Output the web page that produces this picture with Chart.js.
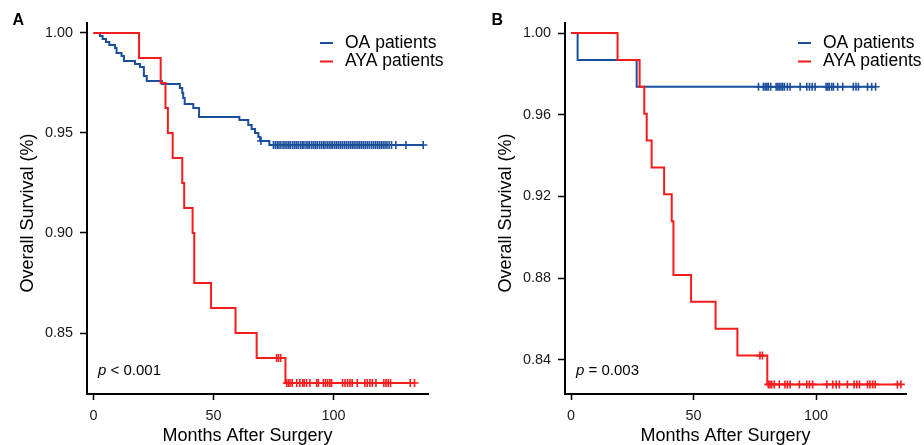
<!DOCTYPE html>
<html>
<head>
<meta charset="utf-8">
<script src="https://cdn.jsdelivr.net/npm/chart.js@4.4.1/dist/chart.umd.min.js"></script>
<style>
  html, body { margin: 0; padding: 0; background: #fff; }
  #wrap { position: relative; width: 924px; height: 445px; }
  canvas { position: absolute; top: 0; }
</style>
</head>
<body>
<div id="wrap">
  <canvas id="panelA" width="462" height="445" style="left:0"></canvas>
  <canvas id="panelB" width="462" height="445" style="left:462px"></canvas>
</div>
<script>
// ---------------- DATA ----------------
const seriesLabels = ['OA patients', 'AYA patients'];
const seriesColors = ['#1b4f9c', '#f41c1c'];

const xTicks = [0, 50, 100];
const yTicksA = [0.85, 0.90, 0.95, 1.00];
const yTicksB = [0.84, 0.88, 0.92, 0.96, 1.00];

// Panel A – OA patients (event times, survival after event)
const aOaTimes = [0, 2.7, 3.8, 5.2, 6.6, 9.0, 9.6, 11.7, 12.7, 17.3, 19.4, 21.0, 22.2, 28.5, 36.0, 37.0, 37.4, 38.0, 41.6, 44.0, 60.8, 64.5, 65.9, 67.3, 68.7, 69.5, 73.3];
const aOaSurv  = [1.0, 0.9985, 0.997, 0.9955, 0.994, 0.9925, 0.990, 0.9885, 0.986, 0.9845, 0.983, 0.9785, 0.976, 0.9745, 0.9725, 0.970, 0.9675, 0.9645, 0.9625, 0.958, 0.9565, 0.954, 0.952, 0.950, 0.948, 0.946, 0.944];
const aOaCensor = [69.8, 75.0, 75.8, 76.6, 77.3, 78.1, 79.0, 79.8, 80.6, 81.4, 82.1, 83.0, 83.8, 84.5, 85.3, 86.2, 87.0, 87.7, 88.6, 89.4, 90.1, 91.0, 91.8, 92.6, 93.3, 94.2, 95.0, 95.8, 96.5, 97.4, 98.2, 99.0, 99.7, 100.6, 101.4, 102.2, 103.0, 103.8, 104.6, 105.4, 106.2, 107.0, 107.8, 108.6, 109.4, 110.2, 111.0, 111.8, 112.6, 113.4, 114.2, 115.0, 115.9, 116.7, 117.5, 118.3, 119.1, 119.9, 120.7, 121.5, 122.3, 123.2, 124.2, 126.0, 130.2, 137.4];

// Panel A – AYA patients
const aAyaTimes = [0, 19.0, 28.0, 30.0, 31.0, 33.0, 37.0, 37.8, 41.3, 42.0, 49.0, 59.2, 68.0, 80.0];
const aAyaSurv  = [1.0, 0.9875, 0.975, 0.9625, 0.95, 0.9375, 0.925, 0.9125, 0.90, 0.875, 0.8625, 0.85, 0.8375, 0.825];
const aAyaCensor = [76.3, 77.1, 78.0, 80.5, 81.2, 81.9, 82.8, 84.7, 86.0, 87.2, 87.8, 88.8, 90.2, 93.0, 93.7, 95.8, 96.7, 97.6, 98.5, 99.2, 103.8, 104.8, 105.9, 106.9, 107.8, 109.9, 113.1, 114.1, 115.2, 116.2, 117.7, 121.0, 121.9, 122.8, 123.8, 132.0, 133.8];

// Panel B – OA patients
const bOaTimes = [0, 2.7, 26.8];
const bOaSurv  = [1.0, 0.9868, 0.9737];
const bOaCensor = [76.5, 78.5, 79.2, 79.9, 80.5, 81.5, 83.7, 84.4, 85.0, 85.7, 86.4, 87.1, 88.3, 89.4, 93.5, 96.2, 97.3, 98.4, 99.6, 104.1, 104.8, 105.4, 106.4, 107.1, 108.8, 110.9, 115.2, 116.3, 117.3, 121.0, 122.7, 124.3];

// Panel B – AYA patients
const bAyaTimes = [0, 19.0, 28.0, 29.9, 30.9, 32.9, 38.0, 41.1, 41.8, 49.0, 59.0, 67.9, 80.1];
const bAyaSurv  = [1.0, 0.9868, 0.9737, 0.9605, 0.9474, 0.9342, 0.9211, 0.9079, 0.8816, 0.8684, 0.8553, 0.8421, 0.828];
const bAyaCensor = [77.1, 78.1, 80.5, 81.2, 81.9, 82.9, 85.0, 87.3, 88.3, 89.4, 93.2, 96.2, 97.3, 98.6, 104.4, 106.8, 108.2, 109.5, 112.8, 115.5, 116.6, 117.7, 121.0, 122.0, 123.1, 124.1, 133.2, 134.6];

const pTexts = ['< 0.001', '= 0.003'];
const panelLetters = ['A', 'B'];
const xTitle = 'Months After Surgery';
const yTitle = 'Overall Survival (%)';

// --------------- HELPERS ---------------
const FONT = "'Liberation Sans', Arial, Helvetica, sans-serif";

function survAt(times, surv, t) {
  let s = surv[0];
  for (let i = 0; i < times.length; i++) { if (times[i] <= t) s = surv[i]; }
  return s;
}
function kmLine(times, surv, censor) {
  const pts = times.map((t, i) => ({ x: t, y: surv[i] }));
  const end = Math.max(times[times.length - 1], censor[censor.length - 1]);
  pts.push({ x: end, y: surv[surv.length - 1] });
  return pts;
}
function censorPts(times, surv, censor) {
  return censor.map(t => ({ x: t, y: survAt(times, surv, t) }));
}

const overlayPlugin = {
  id: 'overlay',
  afterDraw(chart, args, opts) {
    const ctx = chart.ctx;
    const ca = chart.chartArea;
    ctx.save();
    // panel letter
    ctx.fillStyle = '#000';
    ctx.font = 'bold 16px ' + FONT;
    ctx.textBaseline = 'middle';
    ctx.textAlign = 'left';
    ctx.fillText(opts.letter, opts.letterX, 20.5);
    // legend
    ctx.font = '17.5px ' + FONT;
    seriesLabels.forEach((lab, i) => {
      const y = 43 + i * 18.5;
      ctx.strokeStyle = seriesColors[i];
      ctx.lineWidth = 2;
      ctx.beginPath();
      ctx.moveTo(ca.left + 233, y);
      ctx.lineTo(ca.left + 246, y);
      ctx.stroke();
      ctx.fillStyle = '#000';
      ctx.fillText(lab, ca.left + 258, y);
    });
    // p value
    ctx.font = 'italic 15px ' + FONT;
    const px = ca.left + 11, py = 371;
    ctx.fillText('p', px, py);
    const w = ctx.measureText('p').width;
    ctx.font = '15px ' + FONT;
    ctx.fillText(' ' + opts.pText, px + w, py);
    // axis titles
    ctx.font = '18px ' + FONT;
    ctx.textAlign = 'center';
    ctx.fillText(xTitle, (ca.left + ca.right) / 2 - 10, 436);
    ctx.save();
    ctx.translate(ca.left - 58.5, 213);
    ctx.rotate(-Math.PI / 2);
    ctx.fillText(yTitle, 0, 0);
    ctx.restore();
    ctx.restore();
  }
};

function makePanel(id, cfg) {
  const datasets = [
    { label: seriesLabels[0], data: kmLine(cfg.oaT, cfg.oaS, cfg.oaC), stepped: true,
      borderColor: seriesColors[0], borderWidth: 2, pointRadius: 0, fill: false, order: 2 },
    { label: seriesLabels[1], data: kmLine(cfg.ayT, cfg.ayS, cfg.ayC), stepped: true,
      borderColor: seriesColors[1], borderWidth: 2, pointRadius: 0, fill: false, order: 1 },
    { label: seriesLabels[0] + ' censored', data: censorPts(cfg.oaT, cfg.oaS, cfg.oaC), showLine: false,
      pointStyle: 'cross', pointRadius: 4, pointBorderWidth: 1.6, borderColor: seriesColors[0], backgroundColor: seriesColors[0], order: 2 },
    { label: seriesLabels[1] + ' censored', data: censorPts(cfg.ayT, cfg.ayS, cfg.ayC), showLine: false,
      pointStyle: 'cross', pointRadius: 4, pointBorderWidth: 1.6, borderColor: seriesColors[1], backgroundColor: seriesColors[1], order: 1 }
  ];
  return new Chart(document.getElementById(id), {
    type: 'line',
    data: { datasets },
    plugins: [overlayPlugin],
    options: {
      responsive: false,
      animation: false,
      events: [],
      layout: { padding: { left: 0, top: 23, right: cfg.padRight, bottom: 0 } },
      plugins: {
        legend: { display: false },
        tooltip: { enabled: false },
        overlay: { letter: cfg.letter, letterX: cfg.letterX, pText: cfg.pText }
      },
      scales: {
        x: {
          type: 'linear', min: cfg.xMin, max: cfg.xMax,
          afterBuildTicks: s => { s.ticks = xTicks.map(v => ({ value: v })); },
          afterFit: s => { s.height = 445 - 394; },
          ticks: { callback: v => String(v), color: '#1a1a1a', font: { family: FONT, size: 14.4 }, padding: 7, maxRotation: 0, autoSkip: false },
          grid: { display: true, drawOnChartArea: false, drawTicks: true, tickLength: 6, tickColor: '#000', tickWidth: 1.5 },
          border: { display: true, color: '#000', width: 2 }
        },
        y: {
          type: 'linear', min: cfg.yMin, max: cfg.yMax,
          afterBuildTicks: s => { s.ticks = cfg.yTicks.map(v => ({ value: v })); },
          afterFit: s => { s.width = cfg.yWidth; },
          ticks: { callback: v => v.toFixed(2), color: '#1a1a1a', font: { family: FONT, size: 14.4 }, padding: 7, autoSkip: false },
          grid: { display: true, drawOnChartArea: false, drawTicks: true, tickLength: 7, tickColor: '#000', tickWidth: 1.5 },
          border: { display: true, color: '#000', width: 2 }
        }
      }
    }
  });
}

makePanel('panelA', {
  oaT: aOaTimes, oaS: aOaSurv, oaC: aOaCensor,
  ayT: aAyaTimes, ayS: aAyaSurv, ayC: aAyaCensor,
  xMin: -2.7, xMax: 139.4, yMin: 0.8195, yMax: 1.005, yTicks: yTicksA,
  yWidth: 87, padRight: 462 - 428, letter: panelLetters[0], letterX: 12.5, pText: pTexts[0]
});
makePanel('panelB', {
  oaT: bOaTimes, oaS: bOaSurv, oaC: bOaCensor,
  ayT: bAyaTimes, ayS: bAyaSurv, ayC: bAyaCensor,
  xMin: -2.45, xMax: 136.7, yMin: 0.8233, yMax: 1.0049, yTicks: yTicksB,
  yWidth: 103, padRight: 462 - 444, letter: panelLetters[1], letterX: 29.5, pText: pTexts[1]
});
</script>
</body>
</html>
